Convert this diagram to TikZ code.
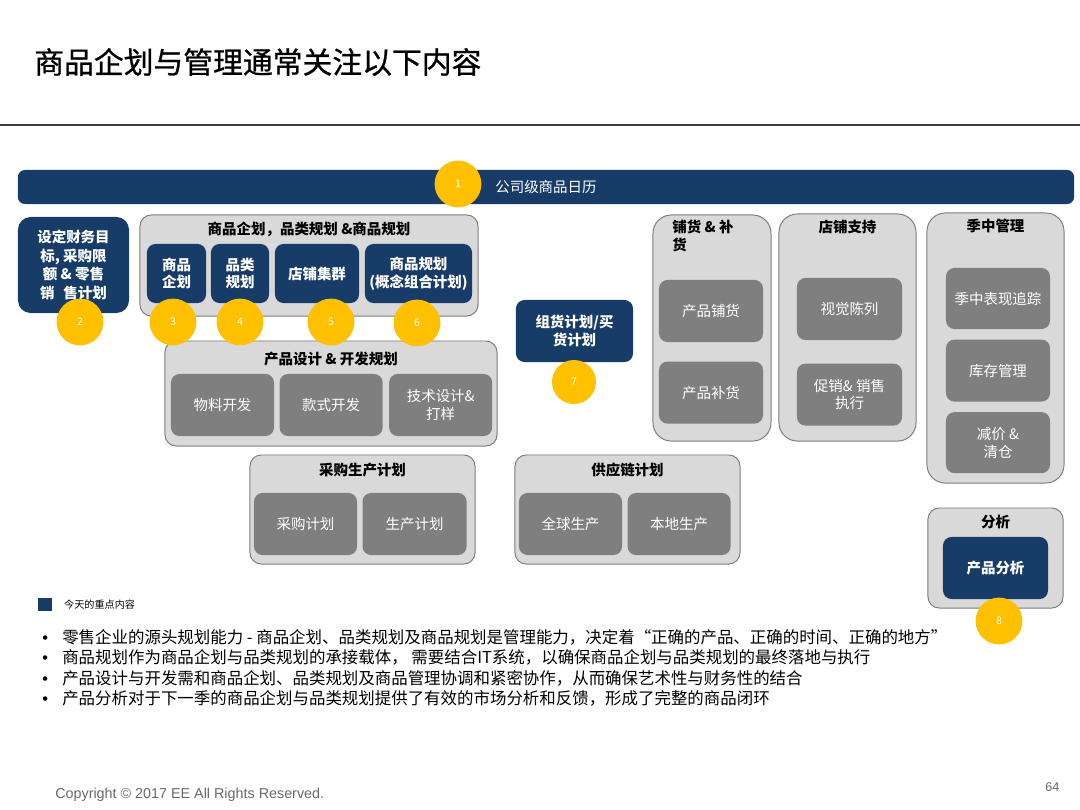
\documentclass[tikz,border=0pt]{standalone}
\usepackage{fontspec}
\setmainfont{Noto Sans CJK SC}
\newfontfamily\footfont{Liberation Sans}
\newfontfamily\headfont[FakeBold=0.8]{Noto Sans CJK SC}
\usepackage{tikz}
\usetikzlibrary{positioning}
\definecolor{NavyBlue}{RGB}{24, 60, 104}
\definecolor{BadgeYellow}{RGB}{255, 192, 0}
\definecolor{GroupFill}{RGB}{217, 217, 217}
\definecolor{GroupEdge}{RGB}{125, 125, 125}
\definecolor{InnerGray}{RGB}{127, 127, 127}
\definecolor{RuleGray}{RGB}{60, 60, 60}
\definecolor{FootGray}{RGB}{105, 105, 105}
\newcommand{\boxfont}{\fontsize{10.3pt}{12.6pt}\selectfont}
\tikzset{
  grp/.style={rectangle, rounded corners=8pt, draw=GroupEdge,
    fill=GroupFill, line width=0.7pt, inner sep=0pt},
  tallgrp/.style={grp, rounded corners=13pt},
  grptitle/.style={font=\boxfont\bfseries, text=black, inner sep=0pt},
  inbox/.style={rectangle, rounded corners=6pt, fill=InnerGray,
    text=white, font=\boxfont, align=center, inner sep=0pt},
  navybox/.style={inbox, fill=NavyBlue, font=\boxfont\bfseries},
  badge/.style={circle, fill=BadgeYellow, text=white, minimum size=1.17cm,
    inner sep=0pt, font=\fontsize{7.5pt}{8pt}\selectfont},
  bullet/.style={anchor=west, inner sep=0pt,
    font=\fontsize{11.7pt}{14pt}\selectfont},
}

\begin{document}
\begin{tikzpicture}[x=0.025cm, y=-0.025cm]
  \useasboundingbox (0,0) rectangle (1080,810);
  \node[anchor=west, inner sep=0pt, font=\headfont\fontsize{21.2pt}{24pt}\selectfont]
    (title) at (34,62) {商品企划与管理通常关注以下内容};
  \draw[RuleGray, line width=1pt] (0,125) -- (1080,125);

  % calendar bar
  \node[navybox, rounded corners=5pt, minimum width=26.4cm,
        minimum height=0.85cm] (cal) at (546,187) {};
  \node[anchor=west, text=white, font=\boxfont, inner sep=0pt]
    (caltext) at (495,187) {公司级商品日历};

  \node[navybox, rounded corners=9pt, minimum width=2.775cm, minimum height=2.4cm,
        font=\fontsize{10.3pt}{13.3pt}\selectfont\bfseries] (fin) at (73.5,265)
    {设定财务目\\标, 采购限\\额 \& 零售\\销\hspace{0.6em}售计划};

  % planning group
  \node[grp, minimum width=8.45cm, minimum height=2.525cm] (plan) at (309,265.5) {};
  \node[grptitle] (plantitle) at (309,229) {商品企划，品类规划 \&商品规划};
  \node[navybox, minimum width=1.475cm, minimum height=1.475cm] (mp) at (176.5,273.5)
    {商品\\企划};
  \node[navybox, minimum width=1.45cm, minimum height=1.475cm] (cp) at (240,273.5)
    {品类\\规划};
  \node[navybox, minimum width=2.1cm, minimum height=1.475cm] (cl) at (317,273.5)
    {店铺集群};
  \node[navybox, minimum width=2.675cm, minimum height=1.475cm] (ap) at (418.5,273.5)
    {商品规划\\(概念组合计划)};

  % design group
  \node[grp, minimum width=8.3cm, minimum height=2.625cm] (dev) at (331,393.5) {};
  \node[grptitle] (devtitle) at (331,359) {产品设计 \& 开发规划};
  \node[inbox, minimum width=2.575cm, minimum height=1.55cm] (mat) at (222.5,405)
    {物料开发};
  \node[inbox, right=0.125cm of mat, minimum width=2.575cm, minimum height=1.55cm]
    (sty) {款式开发};
  \node[inbox, right=0.15cm of sty, minimum width=2.575cm, minimum height=1.55cm]
    (tech) {技术设计\&\\打样};

  % buying and supply
  \node[grp, minimum width=5.625cm, minimum height=2.725cm] (buy) at (362.5,509.5) {};
  \node[grptitle] (buytitle) at (362.5,470) {采购生产计划};
  \node[inbox, minimum width=2.575cm, minimum height=1.55cm] (pur) at (305.5,524)
    {采购计划};
  \node[inbox, right=0.125cm of pur, minimum width=2.6cm, minimum height=1.55cm]
    (prod) {生产计划};
  \node[grp, minimum width=5.625cm, minimum height=2.725cm] (sup) at (627.5,509.5) {};
  \node[grptitle] (suptitle) at (627.5,470) {供应链计划};
  \node[inbox, minimum width=2.575cm, minimum height=1.55cm] (glob) at (570.5,524)
    {全球生产};
  \node[inbox, right=0.125cm of glob, minimum width=2.575cm, minimum height=1.55cm]
    (loc) {本地生产};

  \node[navybox, minimum width=2.925cm, minimum height=1.55cm] (asm) at (574.5,331)
    {组货计划/买\\货计划};

  % in-season columns
  \node[tallgrp, minimum width=2.95cm, minimum height=5.65cm] (alloc) at (712,328) {};
  \node[grptitle, anchor=north west, align=left, font=\fontsize{10.3pt}{12.4pt}\selectfont\bfseries]
    (alloctitle) at (672,220) {铺货 \& 补\\货};
  \node[inbox, minimum width=2.6cm, minimum height=1.55cm] (dist) at (711,311)
    {产品铺货};
  \node[inbox, below=0.475cm of dist, minimum width=2.6cm, minimum height=1.55cm]
    (repl) {产品补货};

  \node[tallgrp, minimum width=3.425cm, minimum height=5.675cm] (store) at (847.5,327.5) {};
  \node[grptitle] (storetitle) at (847.5,227) {店铺支持};
  \node[inbox, minimum width=2.625cm, minimum height=1.55cm] (vm) at (849.5,309)
    {视觉陈列};
  \node[inbox, below=0.575cm of vm, minimum width=2.625cm, minimum height=1.55cm]
    (promo) {促销\& 销售\\执行};

  \node[tallgrp, minimum width=3.425cm, minimum height=6.75cm] (mid) at (995.5,348) {};
  \node[grptitle] (midtitle) at (995.5,226) {季中管理};
  \node[inbox, minimum width=2.6cm, minimum height=1.525cm] (track) at (998,298.5)
    {季中表现追踪};
  \node[inbox, below=0.25cm of track, minimum width=2.6cm, minimum height=1.55cm]
    (stock) {库存管理};
  \node[inbox, below=0.25cm of stock, minimum width=2.6cm, minimum height=1.525cm]
    (mark) {减价 \&\\清仓};

  \node[grp, minimum width=3.375cm, minimum height=2.5cm] (ana) at (995.5,558) {};
  \node[grptitle] (anatitle) at (995.5,522) {分析};
  \node[navybox, minimum width=2.625cm, minimum height=1.55cm] (pa) at (995.5,568)
    {产品分析};

  % numbered badges
  \node[badge] (n1) at (458,184) {1};
  \node[badge] (n2) at (80,322) {2};
  \node[badge] (n3) at (173,322) {3};
  \node[badge] (n4) at (240,322) {4};
  \node[badge] (n5) at (331,322) {5};
  \node[badge] (n6) at (417,323) {6};
  \node[badge, minimum size=1.1cm] (n7) at (574,382) {7};
  \node[badge] (n8) at (999,621) {8};

  % legend and notes
  \node[fill=NavyBlue, minimum size=0.33cm, inner sep=0pt] (key) at (45,604.5) {};
  \node[right=0.3cm of key, inner sep=0pt, font=\fontsize{7.2pt}{8pt}\selectfont]
    (keytext) {今天的重点内容};
  \node[bullet] (b1) at (42,637) {\makebox[0.5cm][l]{\footfont •}零售企业的源头规划能力 - 商品企划、品类规划及商品规划是管理能力，决定着“正确的产品、正确的时间、正确的地方”};
  \node[bullet] (b2) at (42,657.5) {\makebox[0.5cm][l]{\footfont •}商品规划作为商品企划与品类规划的承接载体， 需要结合IT系统，以确保商品企划与品类规划的最终落地与执行};
  \node[bullet] (b3) at (42,678) {\makebox[0.5cm][l]{\footfont •}产品设计与开发需和商品企划、品类规划及商品管理协调和紧密协作，从而确保艺术性与财务性的结合};
  \node[bullet] (b4) at (42,698.5) {\makebox[0.5cm][l]{\footfont •}产品分析对于下一季的商品企划与品类规划提供了有效的市场分析和反馈，形成了完整的商品闭环};

  \node[anchor=west, inner sep=0pt, text=FootGray,
        font=\footfont\fontsize{10.2pt}{11pt}\selectfont] (copy) at (55,795)
    {Copyright © 2017 EE All Rights Reserved.};
  \node[anchor=west, inner sep=0pt, text=FootGray,
        font=\footfont\fontsize{9pt}{11pt}\selectfont] (page) at (1045,787) {64};
\end{tikzpicture}
\end{document}
